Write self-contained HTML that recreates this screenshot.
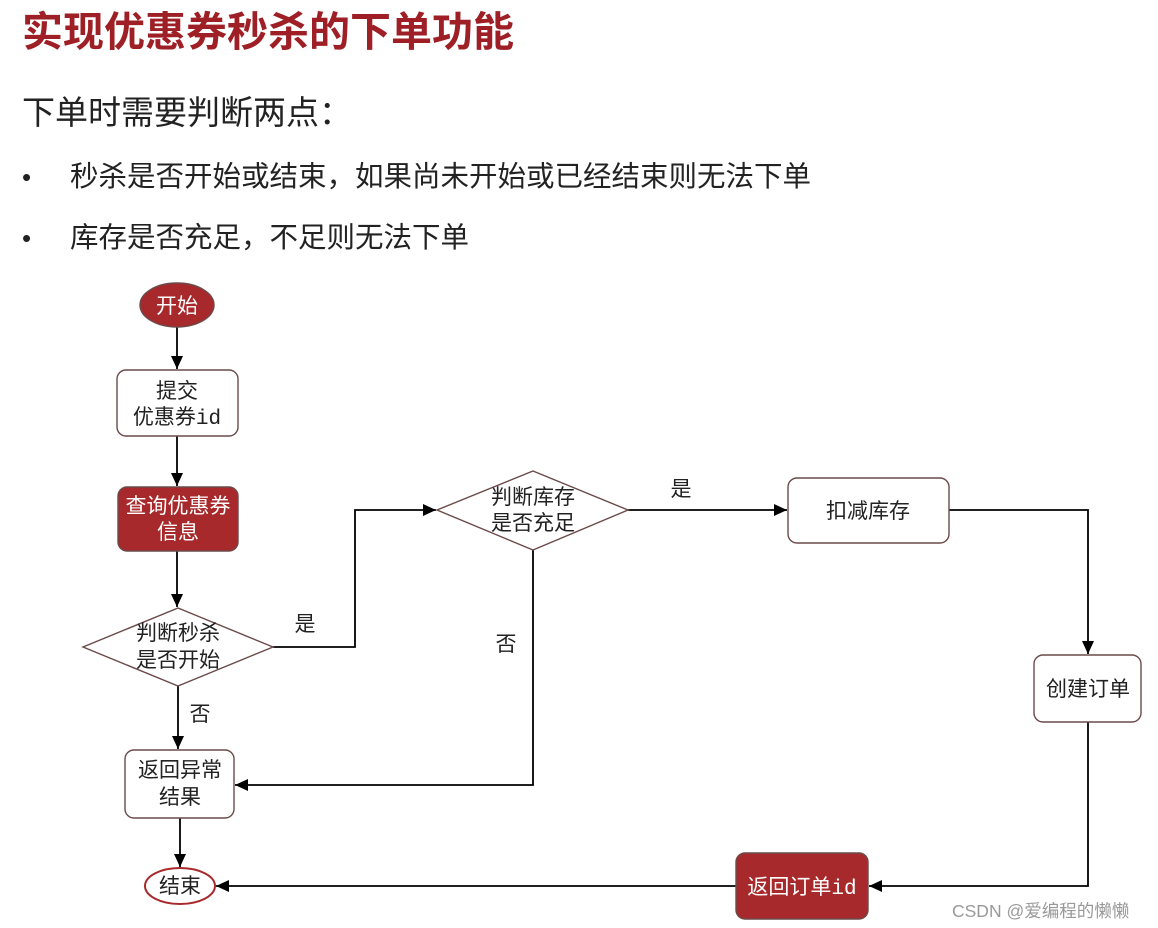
<!DOCTYPE html>
<html><head><meta charset="utf-8"><style>
html,body{margin:0;padding:0;background:#fff;}
body{width:1158px;height:928px;overflow:hidden;position:relative;font-family:"Liberation Sans","Noto Sans CJK SC",sans-serif;}
</style></head><body>
<svg width="1158" height="928" xmlns="http://www.w3.org/2000/svg" style="position:absolute;left:0;top:0">
<defs><marker id="a" markerWidth="14" markerHeight="14" refX="13" refY="6" orient="auto" markerUnits="userSpaceOnUse"><path d="M0,0 L13,6 L0,12 z" fill="#000"/></marker></defs>
<g font-family="Liberation Sans, Noto Sans CJK SC, sans-serif">
<text x="22" y="46" font-size="41" font-weight="bold" fill="#9e1f26">实现优惠券秒杀的下单功能</text>
<text x="22" y="124" font-size="33" fill="#222">下单时需要判断两点：</text>
<text x="22" y="186" font-size="26" fill="#222">•</text>
<text x="70" y="186" font-size="28.5" fill="#222">秒杀是否开始或结束，如果尚未开始或已经结束则无法下单</text>
<text x="22" y="247" font-size="26" fill="#222">•</text>
<text x="70" y="247" font-size="28.5" fill="#222">库存是否充足，不足则无法下单</text>
</g>
<g stroke="#000" stroke-width="1.8" fill="none">
<line x1="177" y1="327" x2="177" y2="369" marker-end="url(#a)"/>
<line x1="177" y1="436" x2="177" y2="486" marker-end="url(#a)"/>
<line x1="177" y1="551" x2="177" y2="607" marker-end="url(#a)"/>
<line x1="178" y1="686" x2="178" y2="749" marker-end="url(#a)"/>
<polyline points="273,647 355,647 355,510 436,510" marker-end="url(#a)"/>
<line x1="628" y1="510" x2="787" y2="510" marker-end="url(#a)"/>
<polyline points="533,550 533,785 235,785" marker-end="url(#a)"/>
<polyline points="949,510 1088,510 1088,654" marker-end="url(#a)"/>
<polyline points="1088,722 1088,886 869,886" marker-end="url(#a)"/>
<line x1="736" y1="886" x2="216" y2="886" marker-end="url(#a)"/>
<line x1="180" y1="818" x2="180" y2="867" marker-end="url(#a)"/>
</g>
<g stroke="#6b4a4a" stroke-width="1.4">
<ellipse cx="177" cy="305" rx="37" ry="22" fill="#a8292b"/>
<rect x="117" y="370" width="121" height="66" rx="9" fill="#fff"/>
<rect x="118" y="487" width="120" height="64" rx="9" fill="#a8292b"/>
<polygon points="83,647 178,608 273,647 178,686" fill="#fff"/>
<rect x="125" y="750" width="109" height="68" rx="9" fill="#fff"/>
<ellipse cx="180" cy="886" rx="35" ry="18" fill="#fff" stroke="#a8292b" stroke-width="2"/>
<polygon points="437,510 533,471 628,510 533,550" fill="#fff"/>
<rect x="788" y="478" width="161" height="65" rx="9" fill="#fff"/>
<rect x="1034" y="655" width="107" height="67" rx="9" fill="#fff"/>
<rect x="736" y="853" width="132" height="66" rx="9" fill="#a8292b"/>
</g>
<g font-family="Liberation Sans, Noto Sans CJK SC, sans-serif" font-size="21" text-anchor="middle" fill="#222">
<text x="177" y="313" fill="#fff">开始</text>
<text x="177" y="398">提交</text>
<text x="177" y="424">优惠券<tspan font-family="Liberation Mono, monospace">id</tspan></text>
<text x="178" y="513" fill="#fff">查询优惠券</text>
<text x="178" y="539" fill="#fff">信息</text>
<text x="178" y="640">判断秒杀</text>
<text x="178" y="667">是否开始</text>
<text x="180" y="777">返回异常</text>
<text x="180" y="804">结果</text>
<text x="180" y="893">结束</text>
<text x="533" y="504">判断库存</text>
<text x="533" y="530">是否充足</text>
<text x="868" y="518">扣减库存</text>
<text x="1088" y="696">创建订单</text>
<text x="802" y="894" fill="#fff">返回订单<tspan font-family="Liberation Mono, monospace">id</tspan></text>
<text x="305" y="631">是</text>
<text x="200" y="721">否</text>
<text x="681" y="496">是</text>
<text x="506" y="651">否</text>
</g>
<text x="952" y="917" font-family="Liberation Sans, Noto Sans CJK SC, sans-serif" font-size="17.5" fill="#999">CSDN @爱编程的懒懒</text>
</svg>
</body></html>
